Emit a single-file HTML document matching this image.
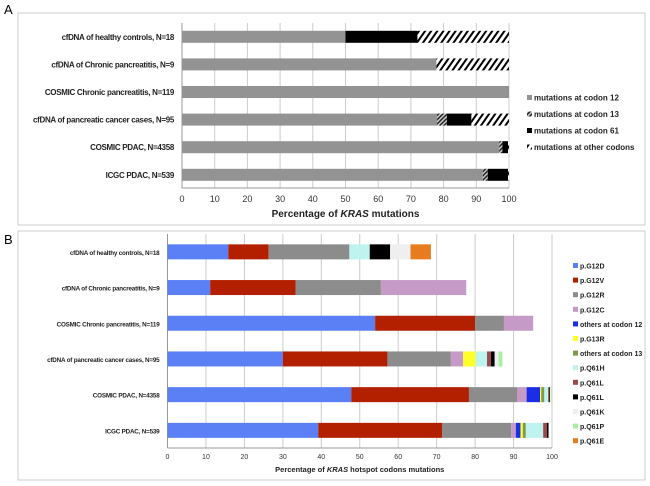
<!DOCTYPE html>
<html><head><meta charset="utf-8"><style>
html,body{margin:0;padding:0;background:#fff;}
svg{display:block;font-family:"Liberation Sans",sans-serif;}
</style></head><body>
<svg id="s" width="650" height="486" viewBox="0 0 650 486">
<defs>
<pattern id="p13" patternUnits="userSpaceOnUse" width="3" height="3" patternTransform="rotate(45)"><rect width="3" height="3" fill="#ccc"/><rect width="1.5" height="3" fill="#222"/></pattern>
<pattern id="pOther" patternUnits="userSpaceOnUse" width="5" height="5" patternTransform="rotate(35)"><rect width="5" height="5" fill="#fff"/><rect width="2" height="5" fill="#000"/></pattern>
</defs>
<rect x="18" y="13" width="627" height="212" fill="none" stroke="#ccc"/>
<rect x="18" y="231" width="627" height="249" fill="none" stroke="#ccc"/>
<text x="4" y="14" font-size="13">A</text>
<text x="4" y="244" font-size="13">B</text>
<g id="A"></g><g id="B"></g>
</svg>
<script>
const catsA=["cfDNA of healthy controls, N=18","cfDNA of Chronic pancreatitis, N=9","COSMIC Chronic pancreatitis, N=119","cfDNA of pancreatic cancer cases, N=95","COSMIC PDAC,  N=4358","ICGC PDAC, N=539"];
const seriesA=["mutations at codon 12","mutations at codon 13","mutations at codon 61","mutations at other codons"];
const c12=[50,77.8,100,78,97,92];
const c13=[0,0,0,3,1,1.5];
const c61=[22,0,0,7.5,1.7,6.2];
const cOther=[28,22.2,0,11.5,0.3,0.3];
const ticksA=[0,10,20,30,40,50,60,70,80,90,100];
const catsB=catsA;
const seriesB=["p.G12D","p.G12V","p.G12R","p.G12C","others at codon 12","p.G13R","others at codon 13","p.Q61H","p.Q61L","p.Q61L","p.Q61K","p.Q61P","p.Q61E"];
const G12D=[15.8,11.1,54,30,47.8,39.2];
const G12V=[10.5,22.2,26,27.2,30.6,32.2];
const G12R=[21,22.2,7.5,16.5,12.5,18];
const G12C=[0,22.2,7.6,3.2,2.5,1.2];
const oth12=[0,0,0,0,3.5,1.2];
const G13R=[0,0,0,3.2,0.3,0.6];
const oth13=[0,0,0,0,0.8,0.8];
const Q61H=[5.3,0,0,3,1,4.5];
const Q61Lb=[0,0,0,1,0.3,1];
const Q61Lk=[5.3,0,0,1,0.2,0.4];
const Q61K=[5.3,0,0,1,0.3,0];
const Q61P=[0,0,0,1,0.2,0];
const Q61E=[5.3,0,0,0,0,0];
const ticksB=ticksA;
const NS="http://www.w3.org/2000/svg";
function mk(p,t,a,txt){const e=document.createElementNS(NS,t);for(const k in a)e.setAttribute(k,a[k]);if(txt!==undefined)e.textContent=txt;p.appendChild(e);return e;}
function chart(g,cfg){
 const x=v=>cfg.x0+(cfg.x1-cfg.x0)*v/100;
 const y=i=>cfg.yTop+cfg.step*(i+0.5);
 cfg.ticks.forEach(t=>{
  const l=mk(g,'line',{x1:x(t),x2:x(t),y1:cfg.yTop,y2:cfg.yBot,stroke:'#ccc','stroke-width':1});
  
  
  const tl=mk(g,'text',{x:x(t),y:cfg.yBot+cfg.tickDy,'font-size':cfg.tfs,'text-anchor':'middle',fill:'#333'},t);
  
  
 });
 const ax=mk(g,'line',{x1:cfg.x0,x2:cfg.x0,y1:cfg.yTop,y2:cfg.yBot,stroke:'#999'});
 
 
 const xa=mk(g,'line',{x1:cfg.x0,x2:cfg.x1,y1:cfg.yBot,y2:cfg.yBot,stroke:'#999'});
 
 
 cfg.cats.forEach((c,i)=>{
  const t=mk(g,'text',{x:cfg.x0-8,y:y(i)+3,'font-size':cfg.cfs,'text-anchor':'end','font-weight':'bold',fill:'#222','letter-spacing':cfg.ls},c);
  
  
  let acc=0;
  cfg.series.forEach((s,k)=>{
   const v=cfg.data[k][i];
   if(v>0){
    const r=mk(g,'rect',{x:x(acc),y:y(i)-cfg.bh/2,width:x(acc+v)-x(acc),height:cfg.bh,fill:cfg.fills[k]});
    
    
   }
   acc+=v;
  });
 });
 const at=mk(g,'text',{x:(cfg.x0+cfg.x1)/2,y:cfg.titleY,'font-size':cfg.afs,'text-anchor':'middle','font-weight':'bold',fill:'#222'});
 
 
 mk(at,'tspan',{},cfg.title[0]);mk(at,'tspan',{'font-style':'italic'},'KRAS');mk(at,'tspan',{},cfg.title[1]);
 cfg.series.forEach((s,k)=>{
  const ly=cfg.legY+cfg.legStep*k;
  const m=mk(g,'rect',{x:cfg.legX,y:ly-4,width:cfg.ms,height:cfg.ms,fill:cfg.fills[k]});
  
  
  const lt=mk(g,'text',{x:cfg.legX+cfg.ms+2,y:ly+cfg.ms-4+0.5,'font-size':cfg.lfs,'font-weight':'bold',fill:'#222'},s);
  
  
 });
}
chart(document.getElementById('A'),{x0:182,x1:509,yTop:23,yBot:188,step:27.6,bh:12,ticks:ticksA,cats:catsA,series:seriesA,ls:-0.3,
 data:[c12,c13,c61,cOther],fills:['#939393','url(#p13)','#000','url(#pOther)'],tickDy:14,tfs:9,cfs:8,afs:10,titleY:217,
 title:['Percentage of ',' mutations'],legX:527,legY:99,legStep:16.5,ms:5,lfs:8});
chart(document.getElementById('B'),{x0:167.5,x1:552,yTop:234,yBot:448,step:35.7,bh:15,ticks:ticksB,cats:catsB,series:seriesB,ls:-0.2,
 data:[G12D,G12V,G12R,G12C,oth12,G13R,oth13,Q61H,Q61Lb,Q61Lk,Q61K,Q61P,Q61E],
 fills:['#5b7ff5','#b22000','#8c8c8c','#c59ac7','#1a2ee8','#ffff2a','#7f9a4f','#bff3f0','#9b4a4a','#000','#efefef','#a8f0a0','#e87b1e'],
 tickDy:11,tfs:7,cfs:6.3,afs:7.5,titleY:472,title:['Percentage of ',' hotspot codons mutations'],legX:573,legY:267,legStep:14.6,ms:5,lfs:7});
</script>
</body></html>
